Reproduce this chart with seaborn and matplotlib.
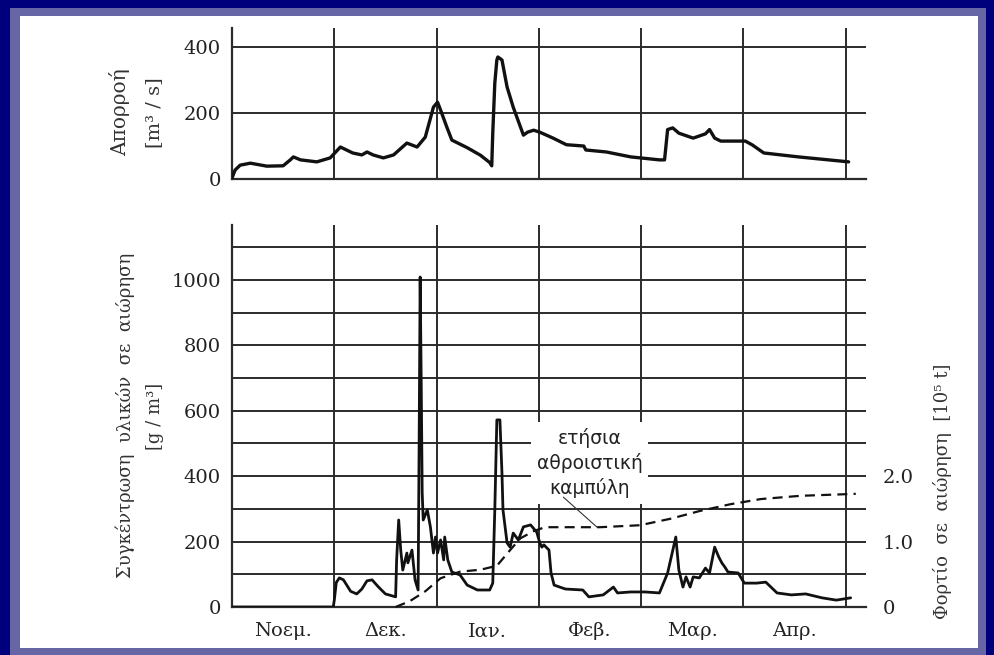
import matplotlib
matplotlib.use("Agg")
import matplotlib.pyplot as plt
from matplotlib.patches import Rectangle
import pandas as pd
import seaborn as sns

# ---------------- data (x in months from 1 Nov; Nov..Apr = 0..6) ----------------
months = ["Νοεμ.", "Δεκ.", "Ιαν.", "Φεβ.", "Μαρ.", "Απρ."]
month_centers = [0.5, 1.5, 2.5, 3.5, 4.5, 5.5]
month_bounds = [1, 2, 3, 4, 5, 6]

# runoff [m3/s]
flow_t = [0.00, 0.03, 0.08, 0.18, 0.34, 0.50, 0.57, 0.60, 0.67, 0.83, 0.96, 1.06, 1.18,
          1.27, 1.32, 1.38, 1.48, 1.58, 1.71, 1.81, 1.89, 1.97, 2.01, 2.04, 2.10, 2.15,
          2.30, 2.43, 2.52, 2.54, 2.55, 2.57, 2.59, 2.60, 2.64, 2.69, 2.75, 2.85, 2.89,
          2.95, 3.01, 3.14, 3.27, 3.44, 3.46, 3.66, 3.90, 4.18, 4.23, 4.26, 4.31, 4.37,
          4.51, 4.63, 4.67, 4.72, 4.78, 5.02, 5.09, 5.20, 5.54, 6.03]
flow_q = [3, 27, 42, 48, 39, 40, 58, 67, 58, 52, 64, 97, 79,
          73, 82, 73, 64, 73, 109, 97, 127, 218, 233, 209, 158, 118,
          95, 72, 50, 40, 139, 291, 361, 370, 361, 279, 218, 133, 142,
          148, 142, 124, 104, 100, 88, 82, 67, 58, 58, 150, 155, 139,
          124, 137, 150, 124, 115, 115, 103, 79, 67, 52]

# suspended sediment concentration [g/m3]
conc_t = [0.00, 0.99, 1.00, 1.02, 1.05, 1.09, 1.16, 1.22, 1.27, 1.32, 1.37, 1.43, 1.50,
          1.60, 1.61, 1.63, 1.65, 1.67, 1.71, 1.72, 1.76, 1.79, 1.82, 1.83, 1.84, 1.85,
          1.86, 1.87, 1.91, 1.94, 1.97, 1.99, 2.01, 2.04, 2.07, 2.08, 2.11, 2.15, 2.23,
          2.30, 2.40, 2.52, 2.55, 2.57, 2.59, 2.62, 2.64, 2.65, 2.69, 2.72, 2.75, 2.80,
          2.85, 2.92, 2.98, 3.01, 3.03, 3.05, 3.10, 3.12, 3.15, 3.26, 3.43, 3.49, 3.63,
          3.73, 3.77, 3.90, 4.04, 4.18, 4.26, 4.34, 4.37, 4.41, 4.44, 4.48, 4.51, 4.57,
          4.63, 4.67, 4.72, 4.76, 4.79, 4.82, 4.85, 4.95, 5.01, 5.13, 5.22, 5.33, 5.47,
          5.61, 5.77, 5.91, 6.05]
conc_c = [0, 0, 20, 75, 89, 83, 48, 40, 55, 80, 83, 62, 40,
          31, 144, 266, 174, 113, 165, 135, 174, 83, 52, 500, 1009, 700,
          349, 266, 297, 245, 165, 214, 165, 205, 144, 214, 144, 107, 98,
          67, 52, 52, 73, 297, 572, 572, 410, 297, 196, 183, 226, 205,
          245, 251, 229, 196, 183, 190, 174, 104, 67, 55, 52, 31, 37,
          61, 43, 46, 46, 43, 104, 214, 113, 61, 92, 61, 92, 89,
          119, 104, 183, 153, 135, 122, 107, 104, 73, 73, 76, 43, 37,
          40, 28, 21, 28]

# annual cumulative suspended load [10^5 t]
load_t = [1.60, 1.74, 1.89, 2.04, 2.23, 2.43, 2.59, 2.72, 2.82, 2.95, 3.06, 3.60,
          3.99, 4.29, 4.58, 4.87, 5.17, 5.56, 6.10]
load_l = [0.00, 0.09, 0.24, 0.44, 0.54, 0.57, 0.63, 0.87, 1.05, 1.16, 1.22, 1.22,
          1.25, 1.35, 1.47, 1.57, 1.65, 1.70, 1.73]

flow_ticks = [0, 200, 400]
flow_grid = [200, 400]
conc_ticks = [0, 200, 400, 600, 800, 1000]
conc_grid = [100, 200, 300, 400, 500, 600, 700, 800, 900, 1000, 1100]
load_ticks = [0, 1.0, 2.0]
load_ticklabels = ["0", "1.0", "2.0"]

flow_df = pd.DataFrame({"t": flow_t, "q": flow_q})
conc_df = pd.DataFrame({"t": conc_t, "c": conc_c})
load_df = pd.DataFrame({"t": load_t, "l": load_l})

# ---------------- style ----------------
sns.set_theme(style="white")
plt.rcParams["font.family"] = ["DejaVu Serif"]

W, H = 995, 655
def fr(x0, y0, x1, y1):
    return [x0 / W, 1 - y1 / H, (x1 - x0) / W, (y1 - y0) / H]

fig = plt.figure(figsize=(W / 100, H / 100), dpi=100, facecolor="#00007c")
fig.patches.append(Rectangle((10 / W, 0), 976 / W, 1 - 8 / H, transform=fig.transFigure,
                             facecolor="#6666a6", edgecolor="none", zorder=-3))
fig.patches.append(Rectangle((20 / W, 7 / H), 958 / W, 1 - 16 / H - 7 / H,
                             transform=fig.transFigure, facecolor="white",
                             edgecolor="none", zorder=-2))

GC = "#2b2b2b"
LC = "#111111"
XMAX = 6.2

# ---------------- top panel : runoff ----------------
ax1 = fig.add_axes(fr(232, 28, 866, 179))
ax1.set_facecolor("none")
for y in flow_grid:
    ax1.axhline(y, color=GC, lw=1.4, zorder=1)
for m in month_bounds:
    ax1.axvline(m, color=GC, lw=1.4, zorder=1)
sns.lineplot(data=flow_df, x="t", y="q", ax=ax1, color=LC, lw=2.4,
             estimator=None, sort=False, zorder=4)
ax1.lines[-1].set_solid_joinstyle("round")
ax1.set_xlim(0, XMAX)
ax1.set_ylim(0, 458)
ax1.set_yticks(flow_ticks)
ax1.set_xticks([])
ax1.set_xlabel("")
ax1.set_ylabel("")
ax1.tick_params(axis="y", length=0, pad=8, labelsize=14, colors="#222222")
for s in ["top", "right"]:
    ax1.spines[s].set_visible(False)
for s in ["left", "bottom"]:
    ax1.spines[s].set_color(GC)
    ax1.spines[s].set_linewidth(1.6)

# ---------------- bottom panel : concentration + cumulative load ----------------
ax2 = fig.add_axes(fr(232, 225, 866, 607))
ax2.set_facecolor("none")
for y in conc_grid:
    ax2.axhline(y, color=GC, lw=1.4, zorder=1)
for m in month_bounds:
    ax2.axvline(m, color=GC, lw=1.4, zorder=1)
sns.lineplot(data=conc_df, x="t", y="c", ax=ax2, color=LC, lw=2.0,
             estimator=None, sort=False, zorder=4)
ax2.lines[-1].set_solid_joinstyle("round")
ax2.set_xlim(0, XMAX)
ax2.set_ylim(0, 1168)
ax2.set_yticks(conc_ticks)
ax2.set_xticks(month_centers)
ax2.set_xticklabels(months)
ax2.set_xlabel("")
ax2.set_ylabel("")
ax2.tick_params(axis="y", length=0, pad=8, labelsize=14, colors="#222222")
ax2.tick_params(axis="x", length=0, pad=11, labelsize=14, colors="#222222")
for s in ["top", "right"]:
    ax2.spines[s].set_visible(False)
for s in ["left", "bottom"]:
    ax2.spines[s].set_color(GC)
    ax2.spines[s].set_linewidth(1.6)

ax2r = ax2.twinx()
ax2r.set_ylim(0, 1168 / 200)
ax2r.set_xlim(0, XMAX)
sns.lineplot(data=load_df, x="t", y="l", ax=ax2r, color=LC, lw=1.6,
             estimator=None, sort=False, zorder=4, clip_on=False)
ax2r.lines[-1].set_dashes([4.5, 2.8])
ax2r.set_yticks(load_ticks)
ax2r.set_yticklabels(load_ticklabels)
ax2r.set_ylabel("")
ax2r.tick_params(axis="y", length=0, pad=12, labelsize=14, colors="#222222")
for s in ax2r.spines.values():
    s.set_visible(False)

# annotation label with white box hiding the grid
ax2.text(3.5, 440, "ετήσια\nαθροιστική\nκαμπύλη", ha="center", va="center",
         fontsize=13.5, family=["DejaVu Sans"], linespacing=1.32, color="#222222",
         zorder=3, bbox=dict(boxstyle="square,pad=0.3", fc="white", ec="none"))
ax2r.annotate("", xy=(3.57, 1.22), xytext=(3.24, 1.68),
              arrowprops=dict(arrowstyle="-", lw=0.8, color="#333333",
                              shrinkA=0, shrinkB=0))

# ---------------- axis titles ----------------
def ftext(x, y, s, size):
    fig.text(x / W, 1 - y / H, s, rotation=90, ha="center", va="center",
             fontsize=size, color="#333333")

ftext(120, 112, "Απορροή", 14.5)
ftext(154, 113, "[m³ / s]", 14)
ftext(125, 415, "Συγκέντρωση  υλικών  σε  αιώρηση", 13)
ftext(155, 416, "[g / m³]", 13)
ftext(942, 491, "Φορτίο  σε  αιώρηση  [10⁵ t]", 13)

fig.savefig("out.png", dpi=100, facecolor=fig.get_facecolor())
